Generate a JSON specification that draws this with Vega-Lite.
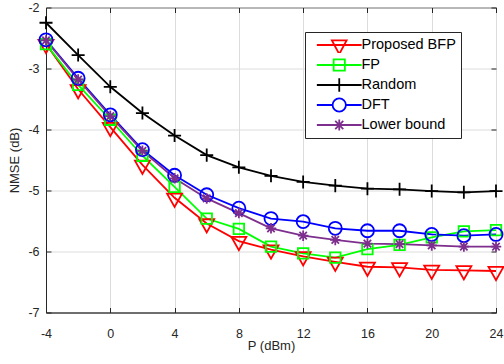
{
  "$schema": "https://vega.github.io/schema/vega-lite/v6.json",
  "width": 450,
  "height": 305,
  "autosize": {"type": "none"},
  "padding": {"left": 46, "top": 7.5, "right": 8, "bottom": 51.5},
  "background": "white",
  "config": {
    "view": {"stroke": "#262626", "strokeWidth": 1},
    "font": "Liberation Sans",
    "axis": {
      "domainColor": "#262626",
      "tickColor": "#262626",
      "gridColor": "#dcdcdc",
      "gridOpacity": 1,
      "labelColor": "#262626",
      "titleColor": "#262626",
      "labelFont": "Liberation Sans",
      "titleFont": "Liberation Sans",
      "labelFontSize": 12.5,
      "titleFontSize": 13,
      "titleFontWeight": "normal",
      "labelFlush": false
    }
  },
  "data": {
    "values": [
      {"P": -4, "NMSE": -2.60, "series": "Proposed BFP"},
      {"P": -2, "NMSE": -3.34, "series": "Proposed BFP"},
      {"P": 0, "NMSE": -3.96, "series": "Proposed BFP"},
      {"P": 2, "NMSE": -4.58, "series": "Proposed BFP"},
      {"P": 4, "NMSE": -5.12, "series": "Proposed BFP"},
      {"P": 6, "NMSE": -5.54, "series": "Proposed BFP"},
      {"P": 8, "NMSE": -5.83, "series": "Proposed BFP"},
      {"P": 10, "NMSE": -5.97, "series": "Proposed BFP"},
      {"P": 12, "NMSE": -6.08, "series": "Proposed BFP"},
      {"P": 14, "NMSE": -6.17, "series": "Proposed BFP"},
      {"P": 16, "NMSE": -6.25, "series": "Proposed BFP"},
      {"P": 18, "NMSE": -6.26, "series": "Proposed BFP"},
      {"P": 20, "NMSE": -6.30, "series": "Proposed BFP"},
      {"P": 22, "NMSE": -6.31, "series": "Proposed BFP"},
      {"P": 24, "NMSE": -6.32, "series": "Proposed BFP"},
      {"P": -4, "NMSE": -2.60, "series": "FP"},
      {"P": -2, "NMSE": -3.27, "series": "FP"},
      {"P": 0, "NMSE": -3.84, "series": "FP"},
      {"P": 2, "NMSE": -4.43, "series": "FP"},
      {"P": 4, "NMSE": -4.94, "series": "FP"},
      {"P": 6, "NMSE": -5.46, "series": "FP"},
      {"P": 8, "NMSE": -5.63, "series": "FP"},
      {"P": 10, "NMSE": -5.92, "series": "FP"},
      {"P": 12, "NMSE": -6.03, "series": "FP"},
      {"P": 14, "NMSE": -6.10, "series": "FP"},
      {"P": 16, "NMSE": -5.96, "series": "FP"},
      {"P": 18, "NMSE": -5.89, "series": "FP"},
      {"P": 20, "NMSE": -5.77, "series": "FP"},
      {"P": 22, "NMSE": -5.67, "series": "FP"},
      {"P": 24, "NMSE": -5.65, "series": "FP"},
      {"P": -4, "NMSE": -2.25, "series": "Random"},
      {"P": -2, "NMSE": -2.78, "series": "Random"},
      {"P": 0, "NMSE": -3.30, "series": "Random"},
      {"P": 2, "NMSE": -3.73, "series": "Random"},
      {"P": 4, "NMSE": -4.10, "series": "Random"},
      {"P": 6, "NMSE": -4.42, "series": "Random"},
      {"P": 8, "NMSE": -4.62, "series": "Random"},
      {"P": 10, "NMSE": -4.76, "series": "Random"},
      {"P": 12, "NMSE": -4.86, "series": "Random"},
      {"P": 14, "NMSE": -4.92, "series": "Random"},
      {"P": 16, "NMSE": -4.97, "series": "Random"},
      {"P": 18, "NMSE": -4.98, "series": "Random"},
      {"P": 20, "NMSE": -5.01, "series": "Random"},
      {"P": 22, "NMSE": -5.03, "series": "Random"},
      {"P": 24, "NMSE": -5.01, "series": "Random"},
      {"P": -4, "NMSE": -2.53, "series": "DFT"},
      {"P": -2, "NMSE": -3.16, "series": "DFT"},
      {"P": 0, "NMSE": -3.76, "series": "DFT"},
      {"P": 2, "NMSE": -4.33, "series": "DFT"},
      {"P": 4, "NMSE": -4.75, "series": "DFT"},
      {"P": 6, "NMSE": -5.07, "series": "DFT"},
      {"P": 8, "NMSE": -5.29, "series": "DFT"},
      {"P": 10, "NMSE": -5.46, "series": "DFT"},
      {"P": 12, "NMSE": -5.51, "series": "DFT"},
      {"P": 14, "NMSE": -5.62, "series": "DFT"},
      {"P": 16, "NMSE": -5.66, "series": "DFT"},
      {"P": 18, "NMSE": -5.66, "series": "DFT"},
      {"P": 20, "NMSE": -5.72, "series": "DFT"},
      {"P": 22, "NMSE": -5.74, "series": "DFT"},
      {"P": 24, "NMSE": -5.72, "series": "DFT"},
      {"P": -4, "NMSE": -2.54, "series": "Lower bound"},
      {"P": -2, "NMSE": -3.18, "series": "Lower bound"},
      {"P": 0, "NMSE": -3.78, "series": "Lower bound"},
      {"P": 2, "NMSE": -4.35, "series": "Lower bound"},
      {"P": 4, "NMSE": -4.80, "series": "Lower bound"},
      {"P": 6, "NMSE": -5.13, "series": "Lower bound"},
      {"P": 8, "NMSE": -5.37, "series": "Lower bound"},
      {"P": 10, "NMSE": -5.62, "series": "Lower bound"},
      {"P": 12, "NMSE": -5.74, "series": "Lower bound"},
      {"P": 14, "NMSE": -5.81, "series": "Lower bound"},
      {"P": 16, "NMSE": -5.87, "series": "Lower bound"},
      {"P": 18, "NMSE": -5.88, "series": "Lower bound"},
      {"P": 20, "NMSE": -5.90, "series": "Lower bound"},
      {"P": 22, "NMSE": -5.92, "series": "Lower bound"},
      {"P": 24, "NMSE": -5.92, "series": "Lower bound"}
    ]
  },
  "resolve": {"axis": {"x": "independent", "y": "independent"}},
  "encoding": {
    "x": {
      "field": "P", "type": "quantitative",
      "scale": {"domain": [-4, 24], "nice": false, "zero": false},
      "axis": null
    },
    "y": {
      "field": "NMSE", "type": "quantitative",
      "scale": {"domain": [-7, -2], "nice": false, "zero": false},
      "axis": null
    }
  },
  "layer": [
    {
      "mark": {"type": "line", "strokeWidth": 1.8},
      "encoding": {
        "x": {
          "field": "P", "type": "quantitative",
          "scale": {"domain": [-4, 24], "nice": false, "zero": false},
          "axis": {"values": [-4, 0, 4, 8, 12, 16, 20, 24], "labelExpr": "'' + datum.value", "title": "P (dBm)", "tickSize": -5, "labelPadding": 20, "titlePadding": -1}
        },
        "y": {
          "field": "NMSE", "type": "quantitative",
          "scale": {"domain": [-7, -2], "nice": false, "zero": false},
          "axis": {"values": [-7, -6, -5, -4, -3, -2], "labelExpr": "'' + datum.value", "title": "NMSE (dB)", "tickSize": -5, "labelPadding": 12, "titlePadding": 6}
        },
        "color": {
          "field": "series", "type": "nominal",
          "scale": {
            "domain": ["Proposed BFP", "FP", "Random", "DFT", "Lower bound"],
            "range": ["#ff0000", "#00ff00", "#000000", "#0000ff", "#7e2f8e"]
          },
          "legend": {
            "title": null,
            "orient": "none",
            "legendX": 259,
            "legendY": 24.5,
            "fillColor": "white",
            "strokeColor": "#262626",
            "padding": 5,
            "cornerRadius": 0,
            "labelFont": "Liberation Sans",
            "labelFontSize": 14.5,
            "labelColor": "#000000",
            "rowPadding": 4,
            "symbolSize": 49,
            "symbolStrokeWidth": 1.8,
            "symbolType": "circle",
            "symbolOffset": 22,
            "labelOffset": 15,
            "clipHeight": 16,
            "encode": {
              "symbols": {
                "update": {
                  "fill": {"value": "transparent"},
                  "shape": {"signal": "datum.value === 'Proposed BFP' ? 'M-6.4,0H6.4M-2.1,-1.3H2.1L0,2.6Z' : datum.value === 'FP' ? 'M-6.4,0H6.4M-1.6,-1.6H1.6V1.6H-1.6Z' : datum.value === 'Random' ? 'M-6.4,0H6.4M0,-1.9V1.9' : datum.value === 'DFT' ? 'M-6.4,0H-1.9A1.9,1.9 0 1,1 1.9,0A1.9,1.9 0 1,1 -1.9,0M1.9,0H6.4' : 'M-6.4,0H6.4M0,-1.6V1.6M-1.15,-1.15L1.15,1.15M-1.15,1.15L1.15,-1.15'"}
                }
              }
            }
          }
        }
      }
    },
    {
      "transform": [{"filter": "datum.series === 'Proposed BFP'"}],
      "mark": {"type": "point", "filled": false, "strokeWidth": 1.8, "size": 196, "opacity": 1, "stroke": "#ff0000", "shape": "M-1.07,-0.6H1.07L0,1.3Z"},
      "encoding": {
        "x": {
          "field": "P", "type": "quantitative",
          "scale": {"domain": [-4, 24], "nice": false, "zero": false},
          "axis": {"orient": "top", "values": [-4, 0, 4, 8, 12, 16, 20, 24], "labels": false, "grid": false, "domain": false, "title": null, "tickSize": -5}
        },
        "y": {
          "field": "NMSE", "type": "quantitative",
          "scale": {"domain": [-7, -2], "nice": false, "zero": false},
          "axis": {"orient": "right", "values": [-7, -6, -5, -4, -3, -2], "labels": false, "grid": false, "domain": false, "title": null, "tickSize": -5}
        }
      }
    },
    {
      "transform": [{"filter": "datum.series === 'FP'"}],
      "mark": {"type": "point", "filled": false, "strokeWidth": 1.8, "size": 196, "opacity": 1, "stroke": "#00ff00", "shape": "M-0.75,-0.75H0.75V0.75H-0.75Z"}
    },
    {
      "transform": [{"filter": "datum.series === 'Random'"}],
      "mark": {"type": "point", "filled": false, "strokeWidth": 1.8, "size": 196, "opacity": 1, "stroke": "#000000", "shape": "M-0.93,0H0.93M0,-0.93V0.93"}
    },
    {
      "transform": [{"filter": "datum.series === 'DFT'"}],
      "mark": {"type": "point", "filled": false, "strokeWidth": 1.8, "size": 196, "opacity": 1, "stroke": "#0000ff", "shape": "M-0.93,0A0.93,0.93 0 1,1 0.93,0A0.93,0.93 0 1,1 -0.93,0Z"}
    },
    {
      "transform": [{"filter": "datum.series === 'Lower bound'"}],
      "mark": {"type": "point", "filled": false, "strokeWidth": 1.8, "size": 196, "opacity": 1, "stroke": "#7e2f8e", "shape": "M-0.75,0H0.75M0,-0.75V0.75M-0.53,-0.53L0.53,0.53M-0.53,0.53L0.53,-0.53"}
    }
  ]
}
